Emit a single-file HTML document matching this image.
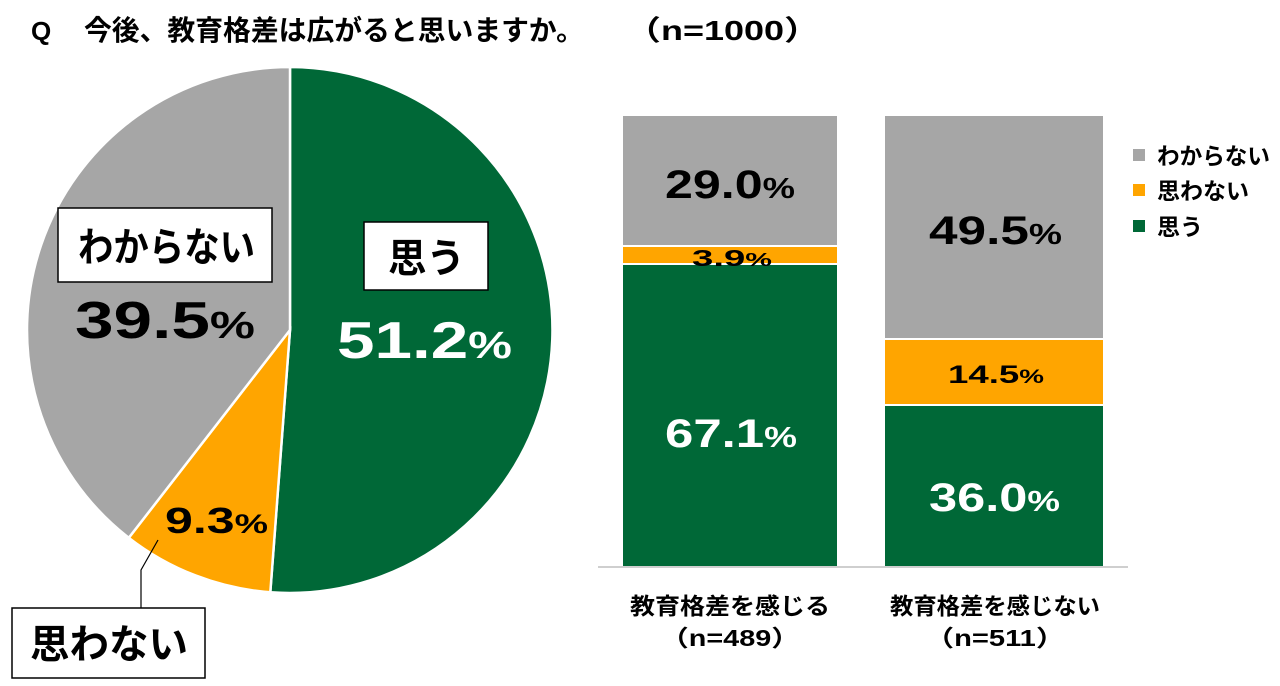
<!DOCTYPE html>
<html><head><meta charset="utf-8"><style>
html,body{margin:0;padding:0;background:#fff;}
svg{display:block;font-family:"Liberation Sans","Noto Sans CJK JP",sans-serif;font-weight:bold;}
</style></head><body>
<svg width="1280" height="686" viewBox="0 0 1280 686">
<text x="31" y="40" font-size="26" fill="#000">Q</text>
<text x="84" y="40" font-size="28" fill="#000" textLength="500" lengthAdjust="spacingAndGlyphs">今後、教育格差は広がると思いますか。</text>
<text x="625" y="40" font-size="28" fill="#000" textLength="195" lengthAdjust="spacingAndGlyphs">（n=1000）</text>
<g stroke="#fff" stroke-width="2.5">
<path d="M290,330 L290,67 A263,263 0 1,1 270.3,592.3 Z" fill="#006837"/>
<path d="M290,330 L270.3,592.3 A263,263 0 0,1 128.8,537.8 Z" fill="#ffa500"/>
<path d="M290,330 L128.8,537.8 A263,263 0 0,1 290,67 Z" fill="#a6a6a6"/>
</g>
<rect x="58" y="208" width="214" height="74" fill="#fff" stroke="#000" stroke-width="1.5"/>
<text x="78" y="261" font-size="40" fill="#000" textLength="177" lengthAdjust="spacingAndGlyphs">わからない</text>
<text x="75" y="338" font-size="52" fill="#000" textLength="180" lengthAdjust="spacingAndGlyphs">39.5<tspan font-size="38">%</tspan></text>
<rect x="364" y="222" width="124" height="68" fill="#fff" stroke="#000" stroke-width="1.5"/>
<text x="388" y="272" font-size="40" fill="#000" textLength="77" lengthAdjust="spacingAndGlyphs">思う</text>
<text x="337" y="358" font-size="52" fill="#fff" textLength="175" lengthAdjust="spacingAndGlyphs">51.2<tspan font-size="38">%</tspan></text>
<text x="165" y="533" font-size="36" fill="#000" textLength="103" lengthAdjust="spacingAndGlyphs">9.3<tspan font-size="27">%</tspan></text>
<polyline points="158,540 141,570 141,608" fill="none" stroke="#000" stroke-width="1.2"/>
<rect x="12" y="608" width="193" height="70" fill="#fff" stroke="#000" stroke-width="1.5"/>
<text x="30" y="658" font-size="40" fill="#000" textLength="158" lengthAdjust="spacingAndGlyphs">思わない</text>
<g stroke="#fff" stroke-width="2">
<rect x="622" y="115" width="216" height="131" fill="#a6a6a6"/>
<rect x="622" y="246" width="216" height="18" fill="#ffa500"/>
<rect x="622" y="264" width="216" height="303" fill="#006837"/>
<rect x="884" y="115" width="220" height="224" fill="#a6a6a6"/>
<rect x="884" y="339" width="220" height="66" fill="#ffa500"/>
<rect x="884" y="405" width="220" height="162" fill="#006837"/>
</g>
<line x1="598" y1="567" x2="1128" y2="567" stroke="#bfbfbf" stroke-width="1.5"/>
<text x="665" y="198" font-size="40" fill="#000" textLength="130" lengthAdjust="spacingAndGlyphs">29.0<tspan font-size="29">%</tspan></text>
<text x="692" y="266" font-size="23" fill="#000" textLength="80" lengthAdjust="spacingAndGlyphs">3.9<tspan font-size="18">%</tspan></text>
<text x="665" y="447" font-size="40" fill="#fff" textLength="132" lengthAdjust="spacingAndGlyphs">67.1<tspan font-size="29">%</tspan></text>
<text x="929" y="244" font-size="40" fill="#000" textLength="133" lengthAdjust="spacingAndGlyphs">49.5<tspan font-size="29">%</tspan></text>
<text x="948" y="383" font-size="25" fill="#000" textLength="96" lengthAdjust="spacingAndGlyphs">14.5<tspan font-size="19">%</tspan></text>
<text x="929" y="511" font-size="40" fill="#fff" textLength="131" lengthAdjust="spacingAndGlyphs">36.0<tspan font-size="29">%</tspan></text>
<text x="630" y="614" font-size="23" fill="#000" textLength="200" lengthAdjust="spacingAndGlyphs">教育格差を感じる</text>
<text x="660" y="646" font-size="23" fill="#000" textLength="140" lengthAdjust="spacingAndGlyphs">（n=489）</text>
<text x="890" y="614" font-size="23" fill="#000" textLength="210" lengthAdjust="spacingAndGlyphs">教育格差を感じない</text>
<text x="925" y="646" font-size="23" fill="#000" textLength="140" lengthAdjust="spacingAndGlyphs">（n=511）</text>
<rect x="1133" y="149" width="12" height="12" fill="#a6a6a6"/>
<rect x="1133" y="184" width="12" height="12" fill="#ffa500"/>
<rect x="1133" y="220" width="12" height="12" fill="#006837"/>
<text x="1157" y="164" font-size="23" fill="#000" textLength="113" lengthAdjust="spacingAndGlyphs">わからない</text>
<text x="1157" y="199" font-size="23" fill="#000" textLength="92" lengthAdjust="spacingAndGlyphs">思わない</text>
<text x="1157" y="235" font-size="23" fill="#000" textLength="46" lengthAdjust="spacingAndGlyphs">思う</text>
</svg>
</body></html>
